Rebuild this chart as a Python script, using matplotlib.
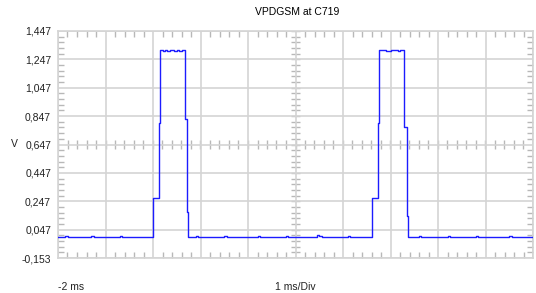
import numpy as np
import matplotlib.pyplot as plt
from matplotlib.ticker import MultipleLocator

# trace (time in ms, volts), drawn as steps
t_ms = [-2.0, -1.85, -1.8, -1.6, -1.3, -1.25, -1.0, -0.7, -0.65, -0.4, -0.2,
        0.0, 0.125, 0.145, 0.2, 0.25, 0.3, 0.35, 0.4, 0.45, 0.5, 0.55, 0.6, 0.675,
        0.71, 0.73, 0.9, 0.95, 1.2, 1.5, 1.55, 1.9, 2.2, 2.25, 2.5, 2.8, 2.85, 3.1,
        3.45, 3.5, 3.55, 3.8, 4.1, 4.15, 4.4,
        4.615, 4.74, 4.76, 4.85, 4.9, 5.0, 5.05, 5.15, 5.2, 5.29,
        5.34, 5.36, 5.6, 5.65, 5.9, 6.2, 6.25, 6.5, 6.8, 6.85, 7.2, 7.5, 7.55, 7.8, 8.0]
volts = [-0.003, 0.002, -0.005, -0.003, 0.001, -0.005, -0.005, 0.001, -0.005, -0.005, -0.005,
         0.272, 0.80, 1.31, 1.305, 1.315, 1.305, 1.31, 1.315, 1.305, 1.31, 1.305, 1.315, 0.83,
         0.17, -0.005, 0.001, -0.005, -0.005, 0.001, -0.005, -0.004, 0.001, -0.005, -0.005, 0.001, -0.005, -0.004,
         0.008, 0.0, -0.005, -0.005, 0.001, -0.005, -0.005,
         0.272, 0.80, 1.31, 1.315, 1.305, 1.31, 1.315, 1.305, 1.31, 0.77,
         0.14, -0.005, 0.001, -0.005, -0.004, 0.001, -0.005, -0.005, 0.001, -0.005, -0.004, 0.001, -0.005, -0.005, -0.005]

y_ticks = [-0.153, 0.047, 0.247, 0.447, 0.647, 0.847, 1.047, 1.247, 1.447]
x_min, x_max = -2, 8

plt.rcParams['font.family'] = ['Liberation Sans', 'DejaVu Sans']
fig = plt.figure(figsize=(5.36, 2.93), dpi=100)
ax = fig.add_axes([58 / 536, 35 / 293, 475 / 536, 227 / 293])

grid_c = '#d4d4d4'
tick_c = '#b8b8b8'

ax.set_xlim(x_min, x_max)
ax.set_ylim(y_ticks[0], y_ticks[-1])
ax.xaxis.set_major_locator(MultipleLocator(1))
ax.xaxis.set_minor_locator(MultipleLocator(0.2))
ax.set_yticks(y_ticks)
ax.set_yticks(np.arange(y_ticks[0], y_ticks[-1] + 1e-6, 0.04), minor=True)
ax.set_yticklabels([f"{v:.3f}".replace('.', ',') for v in y_ticks])
ax.set_xticklabels([])
ax.grid(True, which='major', color=grid_c, linewidth=1.2)
ax.tick_params(which='both', direction='in', top=True, right=True, left=True, bottom=True,
               color=tick_c, labelsize=7.5, labelcolor='#222222', pad=5)
ax.tick_params(which='major', length=0)
ax.tick_params(which='minor', length=4, width=1)
for s in ax.spines.values():
    s.set_color(grid_c)
    s.set_linewidth(1.2)

# centre cross with small ticks
xc = (x_min + x_max) / 2
yc = y_ticks[len(y_ticks) // 2]
dy = (y_ticks[-1] - y_ticks[0]) * 0.02
dx = (x_max - x_min) * 0.009
minor_x = np.arange(x_min, x_max + 1e-6, 0.2)
minor_y = np.arange(y_ticks[0], y_ticks[-1] + 1e-6, 0.04)
ax.vlines(minor_x, yc - dy, yc + dy, color=tick_c, linewidth=1, zorder=1)
ax.hlines(minor_y, xc - dx, xc + dx, color=tick_c, linewidth=1, zorder=1)

ax.plot(t_ms, volts, drawstyle='steps-post', color='#1c1cff', linewidth=1, zorder=3)

fig.text(297 / 536, 1 - 12 / 293, "VPDGSM at C719", ha='center', va='center', fontsize=7.5)
fig.text(14 / 536, 1 - 144 / 293, "V", ha='center', va='center', fontsize=7.5, color='#222222')
fig.text(58 / 536, 1 - 287 / 293, "-2 ms", ha='left', va='center', fontsize=7.5, color='#222222')
fig.text(295 / 536, 1 - 287 / 293, "1 ms/Div", ha='center', va='center', fontsize=7.5, color='#222222')

fig.savefig("out.png", dpi=100)
